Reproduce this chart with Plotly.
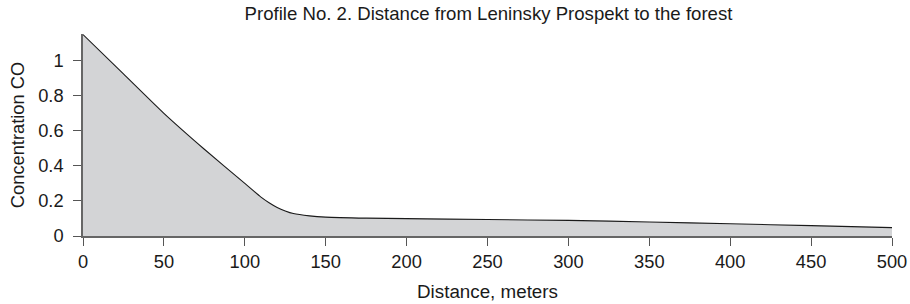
import plotly.graph_objects as go

distance_m = [0, 25, 50, 75, 100, 110, 115, 120, 125, 130, 140, 150, 175, 200, 250, 300, 350, 400, 450, 500]
concentration_co = [1.15, 0.925, 0.70, 0.495, 0.30, 0.222, 0.19, 0.163, 0.143, 0.128, 0.115, 0.108, 0.102, 0.099, 0.094, 0.089, 0.080, 0.070, 0.059, 0.048]

x_ticks = [0, 50, 100, 150, 200, 250, 300, 350, 400, 450, 500]
y_ticks = [0, 0.2, 0.4, 0.6, 0.8, 1]
y_tick_labels = ["0", "0.2", "0.4", "0.6", "0.8", "1"]

title_text = "Profile No. 2. Distance from Leninsky Prospekt to the forest"
x_title = "Distance, meters"
y_title = "Concentration CO"

font_family = "Liberation Sans, Arial, sans-serif"

FIG_W, FIG_H = 910, 304

fig = go.Figure()
fig.add_trace(go.Scatter(
    x=distance_m, y=concentration_co,
    mode="lines",
    line=dict(color="#1a1a1a", width=1.1, shape="spline", smoothing=0.5),
    fill="tozeroy", fillcolor="#d3d4d6",
    showlegend=False, hoverinfo="x+y",
))

fig.update_layout(
    width=FIG_W, height=FIG_H,
    margin=dict(l=83, r=18, t=34, b=67.5),
    paper_bgcolor="white", plot_bgcolor="white",
    font=dict(family=font_family, size=18, color="#1a1a1a"),
    title=dict(text=title_text, x=488.5 / FIG_W, xanchor="center", y=1 - 13 / FIG_H, yanchor="middle",
               font=dict(size=18.6, color="#1a1a1a")),
    xaxis=dict(
        range=[0, 500], tickvals=x_ticks, ticks="outside", ticklen=8, tickwidth=1.2,
        tickcolor="#555", showline=True, linecolor="#666", linewidth=1.5,
        showgrid=False, zeroline=False, automargin=False,
        title=dict(text=x_title, font=dict(size=18.8), standoff=14),
        tickfont=dict(size=18.3),
    ),
    yaxis=dict(
        range=[0, 1.153], tickvals=y_ticks, ticktext=y_tick_labels, ticks="outside",
        ticklen=8, tickwidth=1.2, tickcolor="#555", showline=True, linecolor="#666",
        linewidth=1.5, showgrid=False, zeroline=False, automargin=False,
        ticklabelstandoff=6,
        title=dict(text=y_title, font=dict(size=18.3), standoff=9),
        tickfont=dict(size=18.3),
    ),
)

# remove the default 8px page margin so the 910x304 figure fills the window exactly
fig.write_html(
    "out.html",
    config={"displayModeBar": False},
    post_script="document.body.style.margin='0';document.documentElement.style.overflow='hidden';",
)
